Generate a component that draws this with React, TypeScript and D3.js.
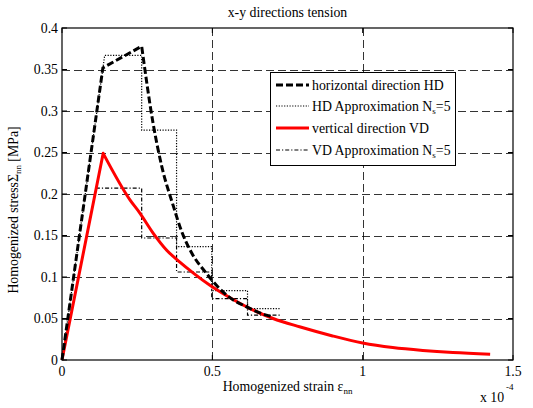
import React from 'react';
import * as d3 from 'd3';

// strain (x 1e-4) and stress (MPa)
const hdStrain = [0, 0.136, 0.265, 0.303, 0.332, 0.369, 0.4, 0.426, 0.481, 0.548, 0.614, 0.68, 0.7];
const hdStress = [0, 0.352, 0.378, 0.285, 0.233, 0.187, 0.153, 0.1325, 0.104, 0.078, 0.064, 0.054, 0.052];

const vdStrain = [0, 0.137, 0.226, 0.259, 0.303, 0.349, 0.392, 0.436, 0.492, 0.559, 0.625, 0.702, 0.79, 0.9, 1.0, 1.1, 1.2, 1.3, 1.424];
const vdStress = [0, 0.249, 0.193, 0.177, 0.153, 0.132, 0.118, 0.105, 0.09, 0.075, 0.062, 0.05, 0.04, 0.029, 0.0205, 0.015, 0.0115, 0.009, 0.007];

// Ns = 5 step approximations
const stepEdges = [0.265, 0.381, 0.498, 0.617, 0.725];
const hdStart = 0.142;
const hdLevels = [0.367, 0.277, 0.1365, 0.0835, 0.062];
const vdStart = 0.114;
const vdLevels = [0.207, 0.147, 0.106, 0.074, 0.054];

const xTicks = [0, 0.5, 1, 1.5];
const xTickLabels = ['0', '0.5', '1', '1.5'];
const yTicks = [0, 0.05, 0.1, 0.15, 0.2, 0.25, 0.3, 0.35, 0.4];
const yTickLabels = ['0', '0.05', '0.1', '0.15', '0.2', '0.25', '0.3', '0.35', '0.4'];

const W = 533;
const H = 408;
const left = 62, right = 513, top = 28, bottom = 360;
const fs = 13.8;
const txt = { fontFamily: "'Liberation Serif', 'Times New Roman', serif" };

const stepPoints = (start: number, levels: number[]) => {
  const pts: [number, number][] = [[0, 0], [start, levels[0]]];
  levels.forEach((lv, i) => {
    pts.push([stepEdges[i], lv]);
    if (i < levels.length - 1) pts.push([stepEdges[i], levels[i + 1]]);
  });
  return pts;
};

const App = () => {
  const x = d3.scaleLinear().domain([0, 1.5]).range([left, right]);
  const y = d3.scaleLinear().domain([0, 0.4]).range([bottom, top]);
  const line = d3.line<[number, number]>().x(d => x(d[0])).y(d => y(d[1]));
  const smooth = d3.line<[number, number]>().x(d => x(d[0])).y(d => y(d[1])).curve(d3.curveMonotoneX);

  const hd = hdStrain.map((v, i) => [v, hdStress[i]] as [number, number]);
  const vd = vdStrain.map((v, i) => [v, vdStress[i]] as [number, number]);
  // linear rise up to the peak, smooth softening after it
  const curvePath = (pts: [number, number][], peak: number) =>
    (line(pts.slice(0, peak + 1)) || '') + (smooth(pts.slice(peak)) || '').replace(/^M/, 'L');

  const legend = [
    { label: 'horizontal direction HD', stroke: '#000', w: 3, dash: '7 3', sub: null },
    { label: 'HD Approximation N', stroke: '#000', w: 1.2, dash: '1.2 1.5', sub: 's' },
    { label: 'vertical direction VD', stroke: '#ff0000', w: 3, dash: null, sub: null },
    { label: 'VD Approximation N', stroke: '#000', w: 1.2, dash: '4 2 1.2 2', sub: 's' },
  ];
  const legY = [85, 106, 128, 150];

  return (
    <svg width={W} height={H} style={{ position: 'absolute', left: 0, top: 0, background: '#fff' }}>
      <rect x={0} y={0} width={W} height={H} fill="#fff" />
      {/* grid */}
      {xTicks.slice(1, -1).map(t => (
        <line key={'gx' + t} x1={Math.round(x(t)) + 0.5} x2={Math.round(x(t)) + 0.5} y1={top} y2={bottom}
          stroke="#000" strokeWidth={0.8} strokeDasharray="8 4" />
      ))}
      {yTicks.slice(1, -1).map(t => (
        <line key={'gy' + t} x1={left} x2={right} y1={Math.round(y(t)) + 0.5} y2={Math.round(y(t)) + 0.5}
          stroke="#000" strokeWidth={0.8} strokeDasharray="8 4" />
      ))}
      {/* ticks */}
      {xTicks.map(t => (
        <g key={'tx' + t}>
          <line x1={x(t)} x2={x(t)} y1={bottom} y2={bottom - 5} stroke="#000" />
          <line x1={x(t)} x2={x(t)} y1={top} y2={top + 5} stroke="#000" />
        </g>
      ))}
      {yTicks.map(t => (
        <g key={'ty' + t}>
          <line x1={left} x2={left + 5} y1={y(t)} y2={y(t)} stroke="#000" />
          <line x1={right} x2={right - 5} y1={y(t)} y2={y(t)} stroke="#000" />
        </g>
      ))}
      {/* series */}
      <path d={line(stepPoints(hdStart, hdLevels)) || ''} fill="none" stroke="#000" strokeWidth={1.2} strokeDasharray="1.2 1.5" />
      <path d={line(stepPoints(vdStart, vdLevels)) || ''} fill="none" stroke="#000" strokeWidth={1.2} strokeDasharray="4 2 1.2 2" />
      <path d={curvePath(vd, 1)} fill="none" stroke="#ff0000" strokeWidth={3} strokeLinejoin="round" />
      <path d={curvePath(hd, 2)} fill="none" stroke="#000" strokeWidth={3} strokeDasharray="7 3" />
      {/* frame */}
      <rect x={left} y={top} width={right - left} height={bottom - top} fill="none" stroke="#000" strokeWidth={1.2} />
      {/* tick labels */}
      {xTicks.map((t, i) => (
        <text key={'lx' + t} style={txt} x={x(t)} y={bottom + 16} textAnchor="middle" fontSize={fs}>{xTickLabels[i]}</text>
      ))}
      {yTicks.map((t, i) => (
        <text key={'ly' + t} style={txt} x={left - 4} y={y(t) + 4.5} textAnchor="end" fontSize={fs}>{yTickLabels[i]}</text>
      ))}
      {/* titles */}
      <text style={txt} x={(left + right) / 2} y={17} textAnchor="middle" fontSize={fs}>x-y directions tension</text>
      <text style={txt} x={(left + right) / 2} y={391} textAnchor="middle" fontSize={fs}>
        Homogenized strain ε<tspan fontSize={9} dy={3}>nn</tspan>
      </text>
      <text style={txt} x={480} y={402} fontSize={fs}>x 10</text>
      <text style={txt} x={506} y={390} fontSize={9}>-4</text>
      <text style={txt} transform={`translate(18,${(top + bottom) / 2 + 16}) rotate(-90)`} textAnchor="middle" fontSize={fs}>
        Homogenized stressΣ<tspan fontSize={9} dy={3}>nn</tspan><tspan dy={-3}> [MPa]</tspan>
      </text>
      {/* legend */}
      <rect x={270.5} y={72.5} width={185} height={93} fill="#fff" stroke="#000" strokeWidth={1} />
      {legend.map((l, i) => (
        <g key={l.label}>
          <line x1={276} x2={309} y1={legY[i]} y2={legY[i]} stroke={l.stroke} strokeWidth={l.w}
            strokeDasharray={l.dash || undefined} />
          <text style={txt} x={312} y={legY[i] + 4.5} fontSize={fs}>
            {l.label}
            {l.sub ? <><tspan fontSize={9} dy={3}>{l.sub}</tspan><tspan dy={-3}>=5</tspan></> : null}
          </text>
        </g>
      ))}
    </svg>
  );
};

export default App;
